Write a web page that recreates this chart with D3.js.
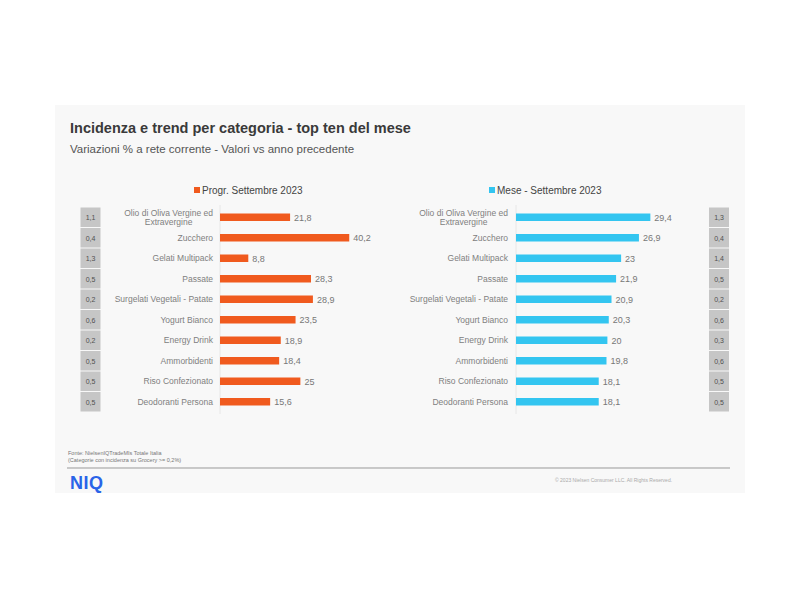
<!DOCTYPE html>
<html><head><meta charset="utf-8">
<script src="https://cdn.jsdelivr.net/npm/d3@7"></script>
<style>body{margin:0;background:#fff;font-family:Arial,"Liberation Sans",sans-serif;}</style>
</head><body><svg id="c" width="800" height="600"></svg>
<script>
const categories = ["Olio di Oliva Vergine ed Extravergine","Zucchero","Gelati Multipack","Passate","Surgelati Vegetali - Patate","Yogurt Bianco","Energy Drink","Ammorbidenti","Riso Confezionato","Deodoranti Persona"];
const progrValues = [21.8,40.2,8.8,28.3,28.9,23.5,18.9,18.4,25,15.6];
const progrIncidenza = ["1,1","0,4","1,3","0,5","0,2","0,6","0,2","0,5","0,5","0,5"];
const meseCategories = ["Olio di Oliva Vergine ed Extravergine","Zucchero","Gelati Multipack","Passate","Surgelati Vegetali - Patate","Yogurt Bianco","Energy Drink","Ammorbidenti","Riso Confezionato","Deodoranti Persona"];
const meseValues = [29.4,26.9,23,21.9,20.9,20.3,20,19.8,18.1,18.1];
const meseIncidenza = ["1,3","0,4","1,4","0,5","0,2","0,6","0,3","0,6","0,5","0,5"];
const seriesNames = ["Progr. Settembre 2023","Mese - Settembre 2023"];

const svg = d3.select("#c");
const font = "Arial, 'Liberation Sans', sans-serif";
svg.append("rect").attr("x",55).attr("y",105).attr("width",690).attr("height",388).attr("fill","#f8f8f8");

svg.append("text").attr("x",70).attr("y",133).attr("font-size",14.5).attr("font-weight","bold").attr("fill","#3a3a3a").attr("font-family",font).text("Incidenza e trend per categoria - top ten del mese");
svg.append("text").attr("x",70).attr("y",153).attr("font-size",11.5).attr("fill","#555").attr("font-family",font).text("Variazioni  % a rete corrente - Valori  vs anno precedente");

const y = d3.scaleBand().domain(d3.range(10)).range([207,412]).paddingInner(0).paddingOuter(0);

function panel(cats, vals, inc, color, name, x0, pxPerUnit, labelX, boxX, legX){
  const x = d3.scaleLinear().domain([0,1]).range([x0, x0+pxPerUnit]);
  const g = svg.append("g");
  g.append("line").attr("x1",x0).attr("x2",x0).attr("y1",205).attr("y2",414).attr("stroke","#e2e2e2").attr("stroke-width",0.8);
  const bh = 7.5;
  g.selectAll("rect.bar").data(vals).join("rect").attr("class","bar")
    .attr("x",x(0)).attr("y",(d,i)=>y(i)+y.bandwidth()/2-bh/2)
    .attr("width",d=>x(d)-x(0)).attr("height",bh).attr("fill",color);
  g.selectAll("text.val").data(vals).join("text").attr("class","val")
    .attr("x",d=>x(d)+4).attr("y",(d,i)=>y(i)+y.bandwidth()/2+3.5)
    .attr("font-size",9).attr("fill","#777").attr("font-family",font)
    .text(d=>String(d).replace(".",","));
  cats.forEach((c,i)=>{
    const t = g.append("text").attr("font-size",8.5).attr("fill","#808080").attr("font-family",font);
    const cy = y(i)+y.bandwidth()/2;
    if(c.length>30){
      const l1 = t.append("tspan").attr("text-anchor","end").attr("x",labelX).attr("y",cy-1).text("Olio di Oliva Vergine ed");
      const w = l1.node().getComputedTextLength();
      t.append("tspan").attr("text-anchor","middle").attr("x",labelX-w/2).attr("y",cy+8).text("Extravergine");
    } else {
      t.attr("text-anchor","end").attr("x",labelX).attr("y",cy+3).text(c);
    }
  });
  g.selectAll("rect.box").data(inc).join("rect").attr("class","box")
    .attr("x",boxX).attr("y",(d,i)=>y(i)+0.5).attr("width",20).attr("height",y.bandwidth()-1)
    .attr("fill","#c6c6c6");
  g.selectAll("text.box").data(inc).join("text").attr("class","box")
    .attr("x",boxX+10).attr("y",(d,i)=>y(i)+y.bandwidth()/2+3).attr("text-anchor","middle")
    .attr("font-size",7).attr("fill","#505050").attr("font-family",font).text(d=>d);
  g.append("rect").attr("x",legX).attr("y",187).attr("width",6).attr("height",6).attr("fill",color);
  g.append("text").attr("x",legX+8).attr("y",194).attr("font-size",10).attr("fill","#444").attr("font-family",font).text(name);
}
panel(categories, progrValues, progrIncidenza, "#f05a1e", seriesNames[0], 220, 3.215, 213, 80.5, 194);
panel(meseCategories, meseValues, meseIncidenza, "#33c5f0", seriesNames[1], 516, 4.57, 508, 709, 489);

svg.append("text").attr("x",68).attr("y",455).attr("font-size",5.5).attr("fill","#777").attr("font-family",font).text("Fonte: NielsenIQTradeMIs Totale Italia");
svg.append("text").attr("x",68).attr("y",462).attr("font-size",5.5).attr("fill","#777").attr("font-family",font).text("(Categorie con incidenza su Grocery >= 0,2%)");
svg.append("line").attr("x1",67).attr("x2",730).attr("y1",468).attr("y2",468).attr("stroke","#999").attr("stroke-width",1);
svg.append("text").attr("x",70).attr("y",489).attr("font-size",18).attr("font-weight","900").attr("letter-spacing",0.5).attr("fill","#2a64e8").attr("font-family",font).text("NIQ");
svg.append("text").attr("x",555).attr("y",482).attr("font-size",5).attr("fill","#aaa").attr("font-family",font).text("© 2023 Nielsen Consumer LLC. All Rights Reserved.");
</script></body></html>
